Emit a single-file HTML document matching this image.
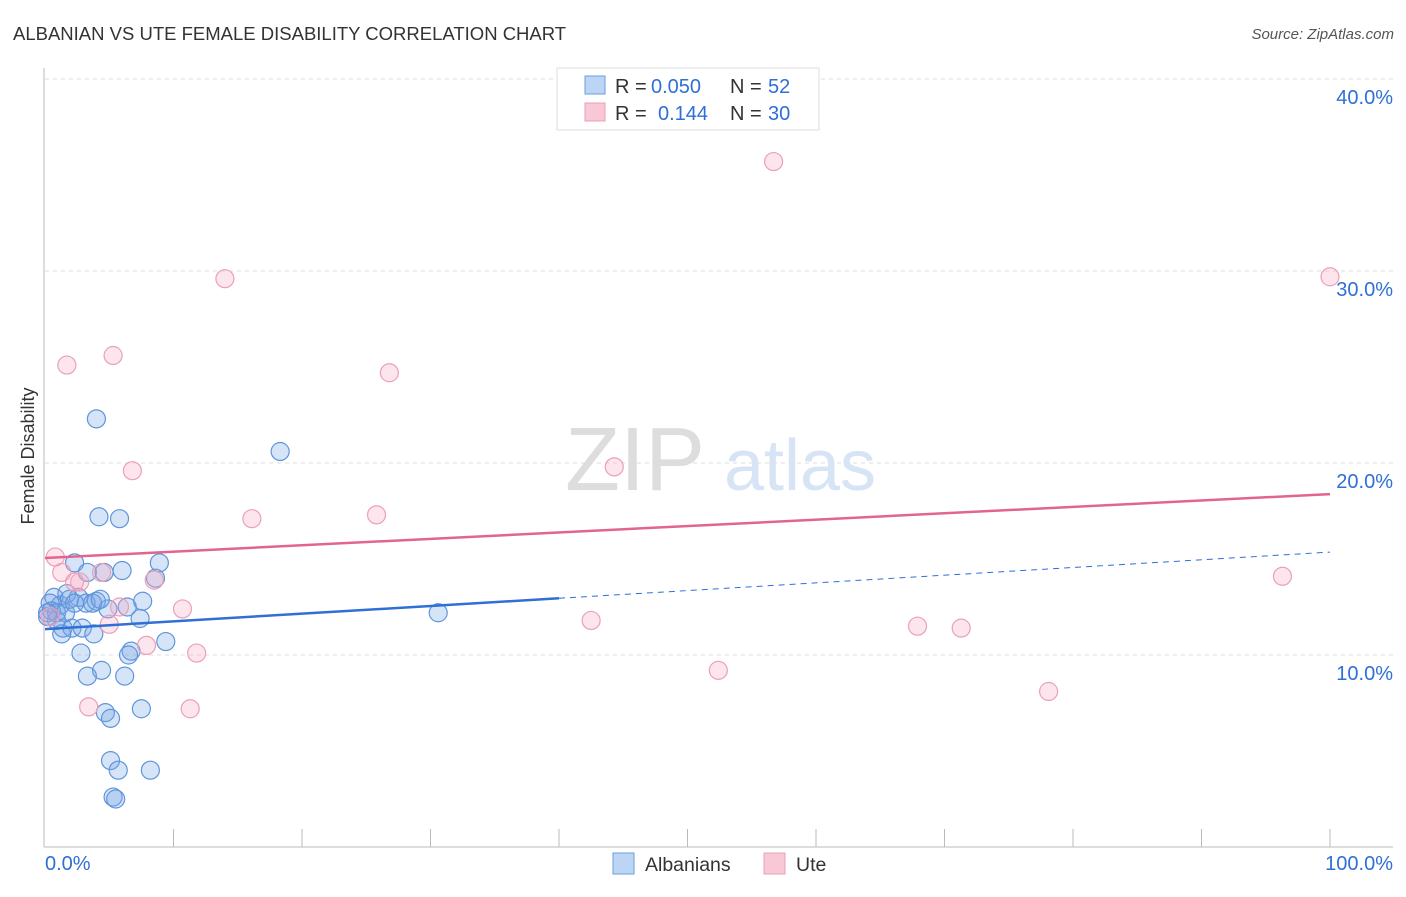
<!DOCTYPE html>
<html><head><meta charset="utf-8"><style>
body{margin:0;background:#fff;font-family:"Liberation Sans",sans-serif;}
svg text{font-family:"Liberation Sans",sans-serif;}
</style></head><body>
<svg id="c" width="1406" height="892">
<text x="13" y="40" font-size="18.5" fill="#333">ALBANIAN VS UTE FEMALE DISABILITY CORRELATION CHART</text>
<text x="1394" y="39" font-size="15" fill="#555" text-anchor="end" font-style="italic">Source: ZipAtlas.com</text>
<text x="34" y="456" font-size="18" fill="#333" transform="rotate(-90 34 456)" text-anchor="middle">Female Disability</text>
<g id="grid"></g>
<text x="635" y="490" font-size="90" fill="#ddd" font-family="Liberation Serif" text-anchor="middle">ZIP</text>
<text x="800" y="490" font-size="72" fill="#d6e4f5" text-anchor="middle">atlas</text>
<g id="pts"></g><g id="lines"></g>
<g>
<rect x="557" y="68" width="262" height="62" fill="#fff" stroke="#ddd"/>
<rect x="585" y="76" width="20" height="18" fill="#bcd5f5" stroke="#6a9ee0"/>
<rect x="585" y="103" width="20" height="18" fill="#f8c8d6" stroke="#eaa0b6"/>
<text x="615" y="93" font-size="20" fill="#333">R =</text>
<text x="651" y="93" font-size="20" fill="#2f6fd6">0.050</text>
<text x="730" y="93" font-size="20" fill="#333">N =</text>
<text x="768" y="93" font-size="20" fill="#2f6fd6">52</text>
<text x="615" y="120" font-size="20" fill="#333">R =</text>
<text x="658" y="120" font-size="20" fill="#2f6fd6">0.144</text>
<text x="730" y="120" font-size="20" fill="#333">N =</text>
<text x="768" y="120" font-size="20" fill="#2f6fd6">30</text>
</g>
<g>
<rect x="613" y="853" width="21" height="21" fill="#bcd5f5" stroke="#6a9ee0"/>
<text x="645" y="871" font-size="19.5" fill="#333">Albanians</text>
<rect x="764" y="853" width="21" height="21" fill="#f8c8d6" stroke="#eaa0b6"/>
<text x="796" y="871" font-size="19.5" fill="#333">Ute</text>
</g>
<text x="45" y="870" font-size="20" fill="#2f6fd6">0.0%</text>
<text x="1393" y="870" font-size="20" fill="#2f6fd6" text-anchor="end">100.0%</text>
</svg>
<script>
const yTicks=[10,20,30,40];
const blueX=[4.0,18.3,4.2,5.8,8.9,2.3,6.0,3.3,4.6,8.6,0.7,1.2,1.7,2.6,3.2,4.0,3.7,4.9,6.4,7.6,0.4,0.5,0.2,0.9,1.4,2.1,2.9,3.8,7.4,9.4,30.6,2.8,6.7,6.5,4.4,3.3,6.2,4.7,5.1,7.5,5.1,5.7,8.2,5.3,5.5,1.3,1.9,0.9,4.3,1.6,2.3,0.2];
const blueY=[22.3,20.6,17.2,17.1,14.8,14.8,14.4,14.3,14.3,14.0,13.0,12.6,13.2,13.0,12.7,12.8,12.7,12.4,12.5,12.8,12.7,12.3,12.0,11.8,11.4,11.4,11.4,11.1,11.9,10.7,12.2,10.1,10.2,10.0,9.2,8.9,8.9,7.0,6.7,7.2,4.5,4.0,4.0,2.6,2.5,11.1,12.9,12.2,12.9,12.2,12.7,12.2];
const uteX=[56.7,14.0,100,5.3,1.7,26.8,6.8,44.3,16.1,25.8,0.8,1.3,2.7,4.4,8.5,5.8,10.7,5.0,42.5,67.9,71.3,7.9,11.8,52.4,78.1,3.4,11.3,96.3,2.3,0.4];
const uteY=[35.7,29.6,29.7,25.6,25.1,24.7,19.6,19.8,17.1,17.3,15.1,14.3,13.8,14.3,13.9,12.5,12.4,11.6,11.8,11.5,11.4,10.5,10.1,9.2,8.1,7.3,7.2,14.1,13.8,12.0];
const blueTrend=[11.35,15.36];
const uteTrend=[15.05,18.38];
const NS="http://www.w3.org/2000/svg";
const sx=v=>45+v*12.85, sy=v=>847-v*19.2;
function mk(t,a,p){const e=document.createElementNS(NS,t);for(const k in a)e.setAttribute(k,a[k]);p.appendChild(e);return e;}
const g=document.getElementById('grid');
yTicks.forEach(t=>{
 const l=mk('line',{x1:45,x2:1393,y1:sy(t),y2:sy(t),stroke:'#ddd','stroke-dasharray':'4 4'},g);
 
 
 const tx=mk('text',{x:1393,y:sy(t)+25,'font-size':20,fill:'#2f6fd6','text-anchor':'end'},g);
 tx.textContent=t.toFixed(1)+'%';
 
 
});
const ax=mk('line',{x1:44,x2:44,y1:68,y2:847,stroke:'#bbb'},g);


const bx=mk('line',{x1:44,x2:1393,y1:847,y2:847,stroke:'#bbb'},g);


for(let i=1;i<=10;i++){const tk=mk('line',{x1:sx(i*10),x2:sx(i*10),y1:829,y2:847,stroke:'#bbb'},g);
 
 }
const P=document.getElementById('pts');
blueX.forEach((x,i)=>{const c=mk('circle',{cx:sx(x),cy:sy(blueY[i]),r:9,fill:'rgba(120,165,230,0.3)',stroke:'#5f95dc','stroke-width':1.2},P);
 
 });
uteX.forEach((x,i)=>{const c=mk('circle',{cx:sx(x),cy:sy(uteY[i]),r:9,fill:'rgba(245,170,195,0.3)',stroke:'#eba0b8','stroke-width':1.2},P);
 
 });
const L=document.getElementById('lines');
const bt=x=>blueTrend[0]+(blueTrend[1]-blueTrend[0])*x/100;
let l1=mk('line',{x1:sx(0),y1:sy(bt(0)),x2:sx(40),y2:sy(bt(40)),stroke:'#2f6fd6','stroke-width':2.5},L);


let l2=mk('line',{x1:sx(40),y1:sy(bt(40)),x2:sx(100),y2:sy(bt(100)),stroke:'#2f6fd6','stroke-width':1,'stroke-dasharray':'6 5'},L);


let l3=mk('line',{x1:sx(0),y1:sy(uteTrend[0]),x2:sx(100),y2:sy(uteTrend[1]),stroke:'#e2658f','stroke-width':2.5},L);


</script>
</body></html>
